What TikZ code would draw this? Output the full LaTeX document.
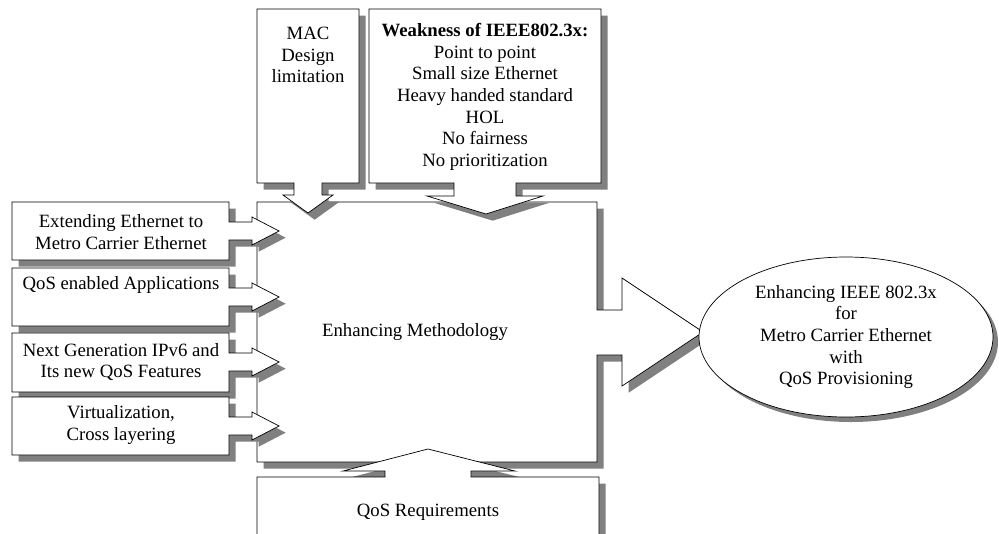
\documentclass[tikz,border=0pt]{standalone}
\usepackage{fontspec}
\setmainfont{Liberation Serif}
\usetikzlibrary{shadows,shapes.geometric}
\tikzset{
	callout/.style={draw=black, fill=white, line width=0.6pt, drop shadow={shadow xshift=2mm, shadow yshift=-2mm, fill=gray, opacity=1}},
	txt/.style={align=center, inner sep=0pt, font=\fontsize{16}{18.5}\selectfont}
}
\begin{document}
\begin{tikzpicture}[x=0.3mm, y=-0.3mm]
			\useasboundingbox (0,0) rectangle (999,533);
			\clip (0,0) rectangle (999,533);
			\fill[white] (0,0) rectangle (999,533);
			\draw[callout] (257,202) -- (597,202) -- (597,310) -- (622,310) -- (622,278) -- (703,332) -- (622,386) -- (622,355) -- (597,355) -- (597,462) -- (257,462) -- cycle;
			\draw[callout] (257,9) -- (359,9) -- (359,183) -- (322,183) -- (322,195) -- (333,195) -- (308,213) -- (283,195) -- (294,195) -- (294,183) -- (257,183) -- cycle;
			\draw[callout] (369,9) -- (601,9) -- (601,183) -- (516,183) -- (516,196) -- (543,196) -- (486,214) -- (427,196) -- (454,196) -- (454,183) -- (369,183) -- cycle;
			\foreach \t/\b/\m in {202/260/231, 268/326/297, 333/392/362, 397/455/426}
				\draw[callout] (12,\t) -- (229,\t) -- (229,\m-9) -- (252,\m-9) -- (252,\m-14) -- (279,\m) -- (252,\m+14) -- (252,\m+9) -- (229,\m+9) -- (229,\b) -- (12,\b) -- cycle;
			\draw[callout] (257,477) -- (385,477) -- (385,471) -- (343,471) -- (428,449) -- (515,471) -- (471,471) -- (471,477) -- (599,477) -- (599,545) -- (257,545) -- cycle;
			\node[txt] (mac) at (308,55) {MAC\\Design\\limitation};
			\node[txt] (weak) at (485,97) {\textbf{Weakness of IEEE802.3x:}\\Point to point\\Small size Ethernet\\Heavy handed standard\\HOL\\No fairness\\No prioritization};
			\node[txt] (method) at (415,332) {Enhancing Methodology};
			\node[txt] (ext) at (121,232) {Extending Ethernet to\\Metro Carrier Ethernet};
			\node[txt] (qosapp) at (121,285) {QoS enabled Applications};
			\node[txt] (ipv6) at (121,362) {Next Generation IPv6 and\\Its new QoS Features};
			\node[txt] (virt) at (121,425) {Virtualization,\\Cross layering};
			\node[txt] (qosreq) at (428,512) {QoS Requirements};
			\node[txt, ellipse, draw=black, fill=white, line width=0.6pt, minimum width=88.2mm, minimum height=48mm, drop shadow={shadow xshift=1.5mm, shadow yshift=-1.5mm, fill=gray, opacity=1}] (goal) at (846,337) {Enhancing IEEE 802.3x\\for\\Metro Carrier Ethernet\\with\\QoS Provisioning};
\end{tikzpicture}
\end{document}
